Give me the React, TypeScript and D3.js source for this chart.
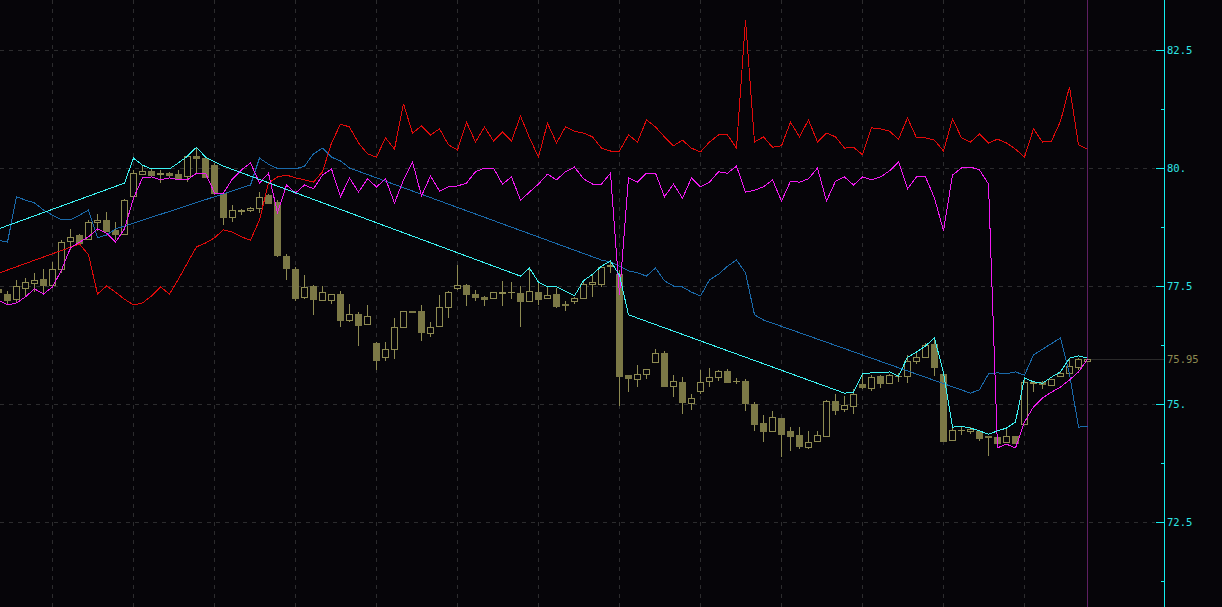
import React from 'react';
import * as d3 from 'd3';

const W = 1222;
const H = 607;

const opens = [77.44,77.33,77.22,77.47,77.57,77.64,77.51,77.87,78.46,78.58,78.51,78.86,78.90,78.69,78.60,79.41,79.87,79.94,79.87,79.89,79.87,79.82,80.25,80.21,80.06,79.46,78.96,79.10,79.10,79.15,79.43,79.29,78.14,77.87,77.25,77.50,77.20,77.19,77.33,76.78,76.91,76.68,76.30,75.99,76.16,76.62,76.97,76.97,76.52,76.64,77.05,77.45,77.52,77.32,77.27,77.24,77.36,77.37,77.35,77.19,77.37,77.24,77.33,77.12,77.17,77.24,77.54,77.54,77.93,77.75,75.61,75.54,75.63,75.87,76.07,75.39,75.46,75.01,75.26,75.49,75.57,75.70,75.49,75.49,75.01,74.59,74.43,74.70,74.43,74.34,74.08,74.22,74.31,75.06,74.89,74.96,75.42,75.35,75.59,75.45,75.59,75.59,75.90,75.99,76.27,75.64,74.24,74.45,74.43,74.43,74.32,74.31,74.19,74.32,74.56,75.45,75.47,75.39,75.59,75.66,75.79,75.90];
const highs = [77.48,77.40,77.63,77.66,77.77,77.87,78.01,78.47,78.70,78.60,78.90,79.03,79.07,78.86,79.34,79.96,80.06,79.99,79.96,79.91,79.96,80.28,80.42,80.24,80.11,79.47,79.22,79.13,79.18,79.50,79.45,79.32,78.18,77.91,77.73,77.52,77.49,77.33,77.40,77.12,76.94,77.10,76.31,76.32,76.82,76.97,76.97,77.10,76.73,77.31,77.40,77.94,77.54,77.42,77.28,77.38,77.61,77.58,77.49,77.87,77.61,77.49,77.46,77.18,77.27,77.59,77.75,77.91,78.05,77.84,75.62,75.83,75.75,76.17,76.13,75.61,75.57,75.21,75.72,75.76,75.72,75.74,75.56,75.53,75.05,74.77,74.85,74.71,74.52,74.52,74.43,74.43,75.08,75.21,75.18,75.31,75.61,75.61,75.61,75.64,75.66,76.04,76.11,76.29,76.39,75.65,74.51,74.52,74.51,74.45,74.33,74.34,74.51,74.33,75.57,75.48,75.48,75.53,75.68,75.97,75.98,75.96];
const lows = [77.30,77.10,77.15,77.27,77.38,77.35,77.49,77.77,78.26,78.39,78.49,78.67,78.65,78.47,78.58,79.39,79.85,79.82,79.69,79.80,79.75,79.71,79.89,79.78,79.43,78.79,78.86,79.00,79.07,79.04,79.25,78.12,77.63,77.19,77.22,76.89,77.19,77.12,76.64,76.74,76.23,76.67,75.72,75.92,75.95,76.60,76.94,76.34,76.43,76.63,76.83,77.42,77.08,77.19,77.08,77.23,77.08,77.22,76.64,77.18,77.10,77.22,77.04,76.96,77.12,77.22,77.27,77.47,77.77,74.96,75.26,75.37,75.53,75.87,75.35,75.15,74.78,74.87,75.21,75.35,75.49,75.47,75.42,74.85,74.43,74.20,74.43,73.87,74.01,74.05,74.05,74.22,74.30,74.77,74.82,74.79,75.31,75.28,75.33,75.45,75.47,75.45,75.84,75.97,75.59,74.20,74.23,74.34,74.36,74.22,73.90,74.17,74.19,74.15,74.55,75.26,75.31,75.38,75.58,75.66,75.71,75.88];
const closes = [77.37,77.20,77.50,77.59,77.63,77.52,77.85,78.44,78.54,78.42,78.86,78.90,78.67,78.60,79.32,79.89,79.93,79.85,79.90,79.84,79.79,80.25,80.21,79.80,79.46,78.96,79.11,79.12,79.15,79.39,79.26,78.16,77.89,77.25,77.47,77.22,77.38,77.32,76.78,76.91,76.68,76.86,75.95,76.16,76.63,76.96,76.94,76.53,76.64,77.05,77.37,77.52,77.32,77.25,77.22,77.37,77.37,77.37,77.17,77.40,77.22,77.31,77.08,77.10,77.24,77.54,77.58,77.90,77.94,75.58,75.54,75.64,75.74,76.07,75.38,75.49,75.03,75.12,75.46,75.57,75.70,75.47,75.49,75.03,74.58,74.43,74.72,74.36,74.33,74.10,74.19,74.34,75.06,74.86,74.98,75.21,75.35,75.58,75.45,75.61,75.59,75.91,75.99,76.25,75.79,74.22,74.45,74.45,74.47,74.29,74.29,74.18,74.32,74.17,75.46,75.47,75.42,75.52,75.66,75.81,75.95,75.95];

// indicator lines: [bar index, value]
const cyanLine: [number, number][] = [[0,78.71],[14,79.68],[15,80.21],[16,80.06],[17,79.98],[19,79.98],[20,80.11],[21,80.25],[22,80.44],[23,80.23],[24,80.13],[25,80.04],[58,77.71],[59,77.88],[60,77.58],[61,77.48],[62,77.48],[63,77.39],[64,77.29],[65,77.61],[66,77.75],[67,77.92],[68,78.03],[69,77.73],[70,76.89],[94,75.23],[95,75.25],[96,75.64],[97,75.66],[98,75.66],[99,75.68],[100,75.59],[101,75.99],[102,76.10],[103,76.23],[104,76.40],[105,75.66],[106,74.51],[107,74.53],[108,74.49],[109,74.43],[110,74.36],[111,74.43],[112,74.49],[113,74.62],[114,75.55],[115,75.47],[116,75.44],[117,75.57],[118,75.68],[119,75.97],[120,76.02],[121,75.97]];

const magentaValues = [77.20,77.10,77.14,77.27,77.44,77.33,77.48,77.84,78.31,78.43,78.54,78.71,78.62,78.43,78.71,79.36,79.79,79.81,79.75,79.79,79.75,79.75,79.89,79.89,79.47,79.47,79.77,79.96,80.11,79.68,79.89,79.05,79.64,79.47,79.64,79.56,79.85,79.98,79.39,79.79,79.49,79.77,79.60,79.77,79.26,79.75,80.13,79.41,79.83,79.51,79.60,79.62,79.68,79.92,80.00,80.00,79.66,79.81,79.32,79.49,79.66,79.87,79.75,79.92,80.02,79.77,79.66,79.66,79.89,77.31,79.79,79.70,79.89,79.89,79.39,79.66,79.36,79.79,79.60,79.70,79.92,79.89,80.04,79.49,79.53,79.60,79.75,79.30,79.72,79.70,79.77,80.00,79.30,79.72,79.81,79.64,79.81,79.75,79.81,79.94,80.13,79.56,79.81,79.81,79.36,78.67,79.85,80.00,80.02,79.96,79.66,74.07,74.15,74.07,74.62,74.94,75.13,75.25,75.36,75.51,75.68,75.95];

const redLine: [number, number][] = [[0,77.77],[9,78.39],[10,78.16],[11,77.33],[12,77.50],[13,77.37],[14,77.22],[15,77.10],[16,77.14],[17,77.29],[18,77.48],[19,77.33],[20,77.65],[21,77.99],[22,78.33],[23,78.41],[24,78.52],[25,78.69],[26,78.64],[27,78.54],[28,78.47],[29,78.90],[30,79.68],[31,79.81],[32,79.85],[33,79.79],[34,79.75],[35,79.70],[36,79.92],[37,80.53],[38,80.93],[39,80.87],[40,80.53],[41,80.30],[42,80.23],[43,80.64],[44,80.40],[45,81.36],[46,80.74],[47,80.89],[48,80.70],[49,80.83],[50,80.49],[51,80.38],[52,80.97],[53,80.55],[54,80.87],[55,80.57],[56,80.76],[57,80.57],[58,81.10],[59,80.64],[60,80.23],[61,80.95],[62,80.53],[63,80.87],[64,80.78],[65,80.74],[66,80.66],[67,80.42],[68,80.36],[69,80.36],[70,80.70],[71,80.55],[72,81.02],[73,80.87],[74,80.66],[75,80.47],[76,80.59],[77,80.42],[78,80.34],[79,80.55],[80,80.70],[81,80.70],[82,80.42],[83,83.14],[84,80.55],[85,80.66],[86,80.44],[87,80.47],[88,80.97],[89,80.66],[90,81.02],[91,80.55],[92,80.74],[93,80.66],[94,80.42],[95,80.44],[96,80.28],[97,80.85],[98,80.83],[99,80.78],[100,80.61],[101,81.06],[102,80.64],[103,80.64],[104,80.59],[105,80.36],[106,81.04],[107,80.64],[108,80.55],[109,80.72],[110,80.53],[111,80.61],[112,80.53],[113,80.40],[114,80.23],[115,80.83],[116,80.55],[117,80.57],[118,80.99],[119,81.72],[120,80.49],[121,80.40]];

const blueLine: [number, number][] = [[0,78.47],[1,78.43],[2,79.39],[3,79.32],[4,79.26],[5,79.11],[6,79.00],[7,78.90],[8,78.90],[9,79.00],[10,79.11],[11,78.52],[12,78.58],[13,78.71],[14,78.77],[28,79.64],[29,80.21],[30,80.08],[31,79.99],[32,79.98],[33,79.98],[34,80.04],[35,80.30],[36,80.42],[37,80.23],[38,80.15],[39,80.00],[67,78.05],[68,78.01],[69,77.92],[70,77.82],[71,77.78],[72,77.71],[73,77.88],[74,77.61],[75,77.50],[76,77.48],[77,77.37],[78,77.29],[79,77.63],[80,77.75],[81,77.92],[82,78.05],[83,77.78],[84,76.89],[85,76.78],[108,75.23],[109,75.30],[110,75.64],[111,75.66],[112,75.64],[113,75.68],[114,75.61],[115,76.04],[118,76.40],[119,75.64],[120,74.51],[121,74.53]];

const majorTicks = [72.5, 75, 77.5, 80, 82.5];
const majorLabels = ['72.5', '75.', '77.5', '80.', '82.5'];
const minorTicks = [71.25, 73.75, 76.25, 78.75, 81.25];
const vGridIdx = [6, 15, 24, 33, 42, 51, 60, 69, 78, 87, 96, 105, 114];
const lastPrice = 75.95;
const lastPriceLabel = '75.95';

const BG = '#060509';
const CANDLE = '#8e8b52';
const CANDLE_FILL = '#7b7846';
const AXIS = '#12eeee';

export default function App() {
  const n = closes.length;
  const x = d3.scaleLinear().domain([0, n - 1]).range([-2, 1087]);
  const y = d3.scaleLinear().domain([72.5, 82.5]).range([522, 50]);
  const axisX = 1164.5;
  const line = d3.line<[number, number]>().x(d => x(d[0]) + 0.5).y(d => y(d[1]));
  const magentaLine: [number, number][] = magentaValues.map((v, i) => [i, v]);
  const lastX = x(n - 1) + 0.5;

  return (
    <svg width={W} height={H} style={{ position: 'absolute', left: 0, top: 0, display: 'block', background: BG }}>
      <rect x={0} y={0} width={W} height={H} fill={BG} />
      {/* grid */}
      <g stroke="#2c2c2e" strokeWidth={1} strokeDasharray="4,5" shapeRendering="crispEdges">
        {majorTicks.map((t, k) => (
          <line key={'h' + k} x1={0} x2={1155} y1={Math.round(y(t)) + 0.5} y2={Math.round(y(t)) + 0.5} />
        ))}
        {vGridIdx.map((i, k) => (
          <line key={'v' + k} x1={x(i) + 0.5} x2={x(i) + 0.5} y1={0} y2={H} />
        ))}
      </g>
      {/* last bar marker */}
      <line x1={lastX} x2={lastX} y1={0} y2={H} stroke="#5e1f62" strokeWidth={1} shapeRendering="crispEdges" />
      <line x1={lastX} x2={axisX} y1={Math.round(y(lastPrice)) + 0.5} y2={Math.round(y(lastPrice)) + 0.5} stroke="#2a2a2a" strokeWidth={1} shapeRendering="crispEdges" />
      {/* candles */}
      <g shapeRendering="crispEdges">
        {closes.map((c, i) => {
          const o = opens[i];
          const cx = Math.round(x(i));
          const yh = y(highs[i]);
          const yl = y(lows[i]);
          const top = y(Math.max(o, c));
          const bot = y(Math.min(o, c));
          const up = c > o;
          const flat = Math.abs(c - o) < 0.005;
          return (
            <g key={i}>
              <line x1={cx + 0.5} x2={cx + 0.5} y1={yh} y2={yl} stroke={CANDLE} strokeWidth={1} />
              {flat ? (
                <line x1={cx - 3} x2={cx + 4} y1={Math.round(top) + 0.5} y2={Math.round(top) + 0.5} stroke={CANDLE} strokeWidth={1} />
              ) : up ? (
                <rect x={cx - 2.5} y={Math.round(top) + 0.5} width={6} height={Math.max(1, Math.round(bot - top))} fill={BG} stroke={CANDLE} strokeWidth={1} />
              ) : (
                <rect x={cx - 3} y={Math.round(top)} width={7} height={Math.max(2, Math.round(bot - top) + 1)} fill={CANDLE_FILL} stroke="none" />
              )}
            </g>
          );
        })}
      </g>
      {/* indicator lines */}
      <g fill="none" strokeWidth={1} shapeRendering="crispEdges">
        <path d={line(blueLine) || ''} stroke="#1a6aaa" />
        <path d={line(redLine) || ''} stroke="#e00a0a" />
        <path d={line(magentaLine) || ''} stroke="#f21af2" />
        <path d={line(cyanLine) || ''} stroke="#3cf4f4" />
      </g>
      {/* right axis */}
      <g shapeRendering="crispEdges">
        <line x1={axisX} x2={axisX} y1={0} y2={H} stroke={AXIS} strokeWidth={1.5} />
        {majorTicks.map((t, k) => (
          <line key={'mt' + k} x1={1156} x2={axisX} y1={Math.round(y(t)) + 0.5} y2={Math.round(y(t)) + 0.5} stroke={AXIS} strokeWidth={1.5} />
        ))}
        {minorTicks.map((t, k) => (
          <line key={'nt' + k} x1={1161} x2={axisX} y1={Math.round(y(t)) + 0.5} y2={Math.round(y(t)) + 0.5} stroke={AXIS} strokeWidth={1} />
        ))}
      </g>
      <g fontFamily="'DejaVu Sans Mono', monospace" fontSize={10.5}>
        {majorTicks.map((t, k) => (
          <text key={'lb' + k} x={1167} y={y(t) + 4} fill="#2ee6e6">{majorLabels[k]}</text>
        ))}
        <text x={1167} y={y(lastPrice) + 4} fill="#8e8b52">{lastPriceLabel}</text>
      </g>
    </svg>
  );
}
